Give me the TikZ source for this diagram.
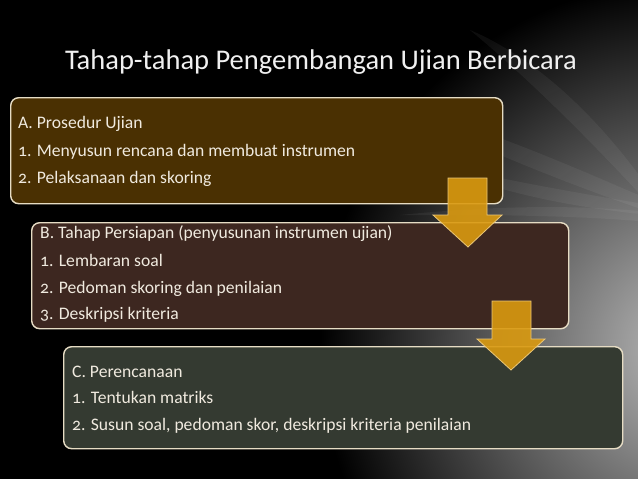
\documentclass[tikz,border=0pt]{standalone}
\usepackage{fontspec}
\setmainfont[Numbers=OldStyle]{Carlito}
\usepackage{tikz}

\definecolor{boxline}{HTML}{E6DCC4}
\definecolor{brownA}{HTML}{4A3002}
\definecolor{brownB}{HTML}{3D2720}
\definecolor{greenC}{HTML}{343A31}
\definecolor{gold}{HTML}{DA9A10}
\definecolor{goldline}{HTML}{EBC778}
\definecolor{itemcol}{HTML}{F0EADF}

\begin{document}
\begin{tikzpicture}[x=1pt,y=-1pt,
    panel/.style={draw=boxline, line width=1.4pt, rounded corners=8pt, anchor=north west, inner sep=0pt},
    item/.style={anchor=base west, inner sep=0pt, text=itemcol, font=\fontsize{17.6}{20}\selectfont},
    streak/.style={fill=white, opacity=0.05},
    flowarrow/.style={fill=gold, draw=goldline, line width=0.8pt, fill opacity=0.9}]
        \useasboundingbox (0,0) rectangle (638,479);
        \clip (0,0) rectangle (638,479);
        \fill[black] (0,0) rectangle (638,479); % background black
        \shade[inner color=gray!52, outer color=black] (690,350) ellipse (370 and 370); % grey glow on the right
        \fill[streak] (470,30) .. controls (540,60) and (600,120) .. (650,190) -- (650,205) .. controls (590,140) and (530,80) .. (470,30); % streaks towards the right edge
        \fill[streak] (380,100) .. controls (480,125) and (580,170) .. (650,200) -- (650,212) .. controls (570,185) and (470,145) .. (380,100);
        \fill[streak] (420,160) .. controls (500,180) and (590,195) .. (650,205) -- (650,215) .. controls (580,208) and (500,195) .. (420,160);
        \fill[streak] (400,215) .. controls (500,205) and (580,205) .. (650,212) -- (650,222) .. controls (570,215) and (500,215) .. (400,215);
        \node[text=white!94!black, anchor=base, inner sep=0pt, font=\fontsize{28.5}{32}\selectfont] (title) at (321,69) {Tahap-tahap Pengembangan Ujian Berbicara};
        \node[panel, fill=brownA, minimum width=492pt, minimum height=106pt] (boxA) at (10,97) {}; % first panel
        \node[panel, fill=brownB, minimum width=537pt, minimum height=106pt] (boxB) at (31,222) {}; % second panel
        \node[panel, fill=greenC, minimum width=559pt, minimum height=102pt] (boxC) at (63,346) {}; % third panel
        \node[item] (a0) at (18,128) {A. Prosedur Ujian};
        \node[item] (a1) at (18,156) {1. Menyusun rencana dan membuat instrumen};
        \node[item] (a2) at (18,183) {2. Pelaksanaan dan skoring};
        \node[item] (b0) at (40,238) {B. Tahap Persiapan (penyusunan instrumen ujian)};
        \node[item] (b1) at (40,266) {1. Lembaran soal};
        \node[item] (b2) at (40,293) {2. Pedoman skoring dan penilaian};
        \node[item] (b3) at (40,319) {3. Deskripsi kriteria};
        \node[item] (c0) at (72,377) {C. Perencanaan};
        \node[item] (c1) at (72,403) {1. Tentukan matriks};
        \node[item] (c2) at (72,430) {2. Susun soal, pedoman skor, deskripsi kriteria penilaian};
        \draw[flowarrow] (448,178) -- (487,178) -- (487,215) -- (502,215) -- (468,247) -- (433,215) -- (448,215) -- cycle; % arrow A to B
        \draw[flowarrow] (492,301) -- (531,301) -- (531,339) -- (545,339) -- (511,370) -- (477,339) -- (492,339) -- cycle; % arrow B to C
      \end{tikzpicture}
\end{document}
